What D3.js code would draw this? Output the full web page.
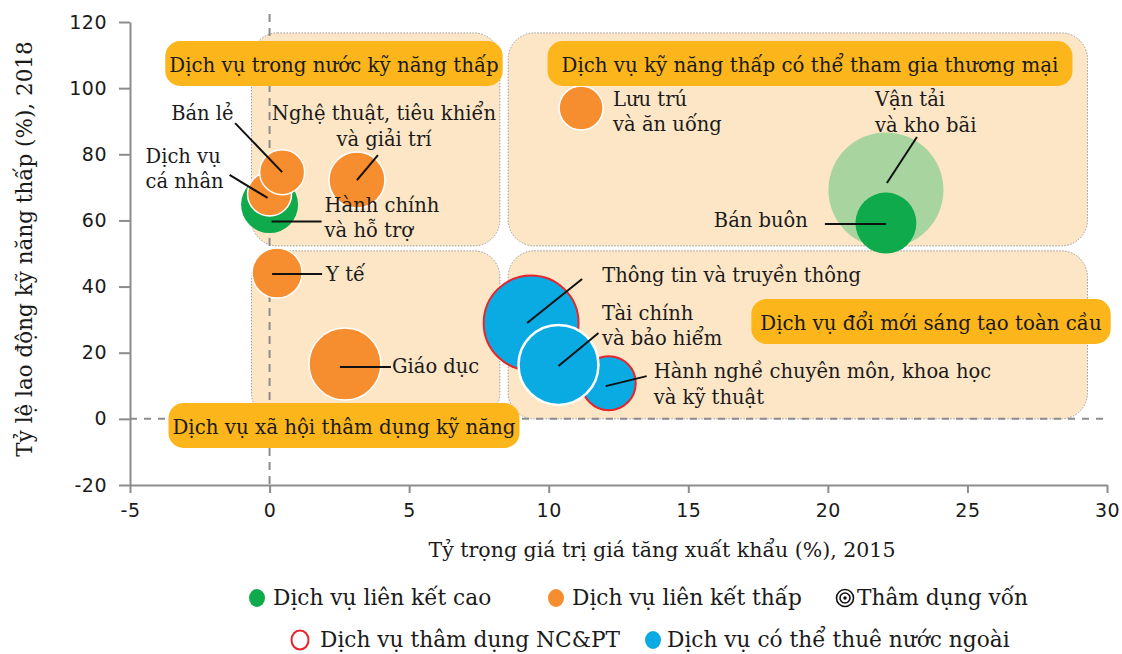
<!DOCTYPE html>
<html>
<head>
<meta charset="utf-8">
<script src="https://cdn.jsdelivr.net/npm/d3@7/dist/d3.min.js"></script>
<style>
  body { margin: 0; background: #fff; }
  svg text { font-family: "DejaVu Serif", serif; fill: #1a1a1a; }
  .tick text { font-family: "DejaVu Sans", sans-serif; letter-spacing: 0.5px; }
</style>
</head>
<body>
<svg id="chart" width="1122" height="654"></svg>
<script>
// ---- Data -------------------------------------------------------------
// Sectors in drawing order (back to front)
const sectors = [
  "Hành chính và hỗ trợ",
  "Dịch vụ cá nhân",
  "Bán lẻ",
  "Nghệ thuật, tiêu khiển và giải trí",
  "Y tế",
  "Giáo dục",
  "Lưu trú và ăn uống",
  "Vận tải và kho bãi",
  "Bán buôn",
  "Thông tin và truyền thông",
  "Hành nghề chuyên môn, khoa học và kỹ thuật",
  "Tài chính và bảo hiểm"
];
// Share of value added in exports (%), 2015
const exportShare = [0.0, 0.0, 0.45, 3.13, 0.27, 2.7, 11.16, 22.08, 22.08, 9.37, 12.15, 10.35];
// Share of low-skilled workers (%), 2018
const lowSkillShare = [64.8, 68.0, 74.6, 72.2, 44.1, 16.6, 94.0, 69.2, 59.2, 29.0, 10.8, 16.3];
// Bubble size (relative employment weight)
const weight = [3.61, 2.15, 2.25, 3.48, 2.78, 5.76, 2.15, 14.7, 4.13, 10.0, 3.24, 7.1];
// Group: "cao" = high linkage, "thap" = low linkage, "ngoai" = offshorable, "von" = capital intensive
const group = ["cao", "thap", "thap", "thap", "thap", "thap", "thap", "von", "cao", "ngoai", "ngoai", "ngoai"];
// R&D intensive flag
const rdIntensive = [false, false, false, false, false, false, false, false, false, true, true, false];

// Quadrant zones (data units) and their titles
const zoneTitles = [
  "Dịch vụ trong nước kỹ năng thấp",
  "Dịch vụ kỹ năng thấp có thể tham gia thương mại",
  "Dịch vụ xã hội thâm dụng kỹ năng",
  "Dịch vụ đổi mới sáng tạo toàn cầu"
];
const zoneX0 = [-0.65, 8.55, -0.65, 8.55];
const zoneX1 = [8.25, 29.3, 8.25, 29.3];
const zoneY0 = [52.3, 52.3, 0, 0];
const zoneY1 = [116.7, 116.7, 50.8, 50.8];

// Axis ticks
const xTicks = [-5, 0, 5, 10, 15, 20, 25, 30];
const yTicks = [-20, 0, 20, 40, 60, 80, 100, 120];

const xTitle = "Tỷ trọng giá trị giá tăng xuất khẩu (%), 2015";
const yTitle = "Tỷ lệ lao động kỹ năng thấp (%), 2018";

const legendRow1 = ["Dịch vụ liên kết cao", "Dịch vụ liên kết thấp", "Thâm dụng vốn"];
const legendRow2 = ["Dịch vụ thâm dụng NC&PT", "Dịch vụ có thể thuê nước ngoài"];

// ---- Styling ----------------------------------------------------------
const C = {
  green: "#0eaa4b",
  lightGreen: "#a8d4a0",
  orange: "#f68d2e",
  blue: "#0aabe2",
  red: "#e6262c",
  zone: "#fde6c6",
  pill: "#fcb61b",
  axis: "#8c8c8c"
};
const fillFor = { cao: C.green, thap: C.orange, ngoai: C.blue, von: C.lightGreen };

// ---- Scales -----------------------------------------------------------
const svg = d3.select("#chart");
const x = d3.scaleLinear().domain([-5, 30]).range([130, 1107]);
const y = d3.scaleLinear().domain([-20, 120]).range([485, 22]);
const r = d3.scaleSqrt().domain([0, 1]).range([0, 15]);

// ---- Zones ------------------------------------------------------------
const zones = svg.append("g");
zoneTitles.forEach((t, i) => {
  zones.append("rect")
    .attr("x", x(zoneX0[i])).attr("y", y(zoneY1[i]))
    .attr("width", x(zoneX1[i]) - x(zoneX0[i]))
    .attr("height", y(zoneY0[i]) - y(zoneY1[i]))
    .attr("rx", 26).attr("ry", 26)
    .attr("fill", C.zone)
    .attr("stroke", "#9a9a9a").attr("stroke-width", 1)
    .attr("stroke-dasharray", "1.5 1.5");
});

// ---- Reference lines through zero ------------------------------------
svg.append("line")
  .attr("x1", x(0)).attr("x2", x(0)).attr("y1", 14).attr("y2", y(-20))
  .attr("stroke", C.axis).attr("stroke-width", 2).attr("stroke-dasharray", "8 6");
svg.append("line")
  .attr("x1", x(-5)).attr("x2", x(30) + 2).attr("y1", y(0)).attr("y2", y(0))
  .attr("stroke", C.axis).attr("stroke-width", 2).attr("stroke-dasharray", "7 7");

// ---- Axes -------------------------------------------------------------
const fmt = d => String(d);
const xAxis = svg.append("g").attr("transform", `translate(0,${y(-20)})`)
  .call(d3.axisBottom(x).tickValues(xTicks).tickSize(8).tickSizeOuter(0).tickPadding(11).tickFormat(fmt));
const yAxis = svg.append("g").attr("transform", `translate(${x(-5)},0)`)
  .call(d3.axisLeft(y).tickValues(yTicks).tickSize(11).tickSizeOuter(0).tickPadding(12).tickFormat(fmt));
[xAxis, yAxis].forEach(g => {
  g.select(".domain").attr("stroke", C.axis).attr("stroke-width", 2);
  g.selectAll(".tick line").attr("stroke", C.axis).attr("stroke-width", 2);
  g.selectAll(".tick text").attr("font-size", 19).attr("fill", "#1a1a1a");
});

svg.append("text").attr("x", 662).attr("y", 557)
  .attr("text-anchor", "middle").attr("font-size", 20.5).text(xTitle);
svg.append("text").attr("transform", "translate(32,249) rotate(-90)")
  .attr("text-anchor", "middle").attr("font-size", 21.5).text(yTitle);

// ---- Bubbles ----------------------------------------------------------
const idx = d3.range(sectors.length);
svg.append("g").selectAll("circle").data(idx).join("circle")
  .attr("cx", i => x(exportShare[i]))
  .attr("cy", i => y(lowSkillShare[i]))
  .attr("r", i => r(weight[i]))
  .attr("fill", i => fillFor[group[i]])
  .attr("stroke", i => rdIntensive[i] ? C.red : (group[i] === "thap" || sectors[i] === "Tài chính và bảo hiểm") ? "#fff" : "none")
  .attr("stroke-width", i => rdIntensive[i] ? 2 : (sectors[i] === "Tài chính và bảo hiểm" ? 2.5 : 1.5));

// ---- Bubble labels with leader lines (offsets in px from bubble centre)
const notes = {
  "Hành chính và hỗ trợ": { lines: ["Hành chính", "và hỗ trợ"], dx: 55, dy: 7, anchor: "start", lead: [[2, 17], [52, 17]] },
  "Dịch vụ cá nhân": { lines: ["Dịch vụ", "cá nhân"], dx: -124, dy: -31, anchor: "start", lead: [[-2, 4], [-40, -19]] },
  "Bán lẻ": { lines: ["Bán lẻ"], dx: -111, dy: -52, anchor: "start", lead: [[0, 0], [-47, -49]] },
  "Nghệ thuật, tiêu khiển và giải trí": { lines: ["Nghệ thuật, tiêu khiển", "và giải trí"], dx: 27, dy: -60, anchor: "middle", lead: [[0, 0], [21, -25]] },
  "Y tế": { lines: ["Y tế"], dx: 49, dy: 8, anchor: "start", lead: [[-5, 1], [45, 1]] },
  "Giáo dục": { lines: ["Giáo dục"], dx: 47, dy: 9, anchor: "start", lead: [[-5, 3], [46, 3]] },
  "Lưu trú và ăn uống": { lines: ["Lưu trú", "và ăn uống"], dx: 32, dy: -2, anchor: "start" },
  "Vận tải và kho bãi": { lines: ["Vận tải", "và kho bãi"], dx: -11, dy: -84, anchor: "start", lead: [[1, -7], [31, -53]] },
  "Bán buôn": { lines: ["Bán buôn"], dx: -78, dy: 4, anchor: "end", lead: [[0, 1], [-61, 1]] },
  "Thông tin và truyền thông": { lines: ["Thông tin và truyền thông"], dx: 71, dy: -41, anchor: "start", lead: [[-4, 0], [51, -44]] },
  "Hành nghề chuyên môn, khoa học và kỹ thuật": { lines: ["Hành nghề chuyên môn, khoa học", "và kỹ thuật"], dx: 45, dy: -5, anchor: "start", lead: [[-3, 3], [38, -7]] },
  "Tài chính và bảo hiểm": { lines: ["Tài chính", "và bảo hiểm"], dx: 43.5, dy: -45, anchor: "start", lead: [[0, 1], [40, -32]] }
};
const labels = svg.append("g");
idx.forEach(i => {
  const n = notes[sectors[i]];
  const cx = x(exportShare[i]), cy = y(lowSkillShare[i]);
  if (n.lead) {
    labels.append("line")
      .attr("x1", cx + n.lead[0][0]).attr("y1", cy + n.lead[0][1])
      .attr("x2", cx + n.lead[1][0]).attr("y2", cy + n.lead[1][1])
      .attr("stroke", "#111").attr("stroke-width", 2);
  }
  const t = labels.append("text")
    .attr("x", cx + n.dx).attr("y", cy + n.dy)
    .attr("text-anchor", n.anchor).attr("font-size", 19.5);
  n.lines.forEach((l, k) => t.append("tspan").attr("x", cx + n.dx).attr("dy", k ? 25.5 : 0).text(l));
});

// ---- Zone title pills -------------------------------------------------
const pillCentre = [[334, 63.5], [810, 63.5], [344, 425.5], [931, 321.5]];
const pillPad = [4, 14, 4, 9];
const pills = svg.append("g");
zoneTitles.forEach((t, i) => {
  const g = pills.append("g");
  const rect = g.append("rect").attr("fill", C.pill).attr("rx", 15).attr("ry", 15);
  const txt = g.append("text").attr("x", pillCentre[i][0]).attr("y", pillCentre[i][1] + 8)
    .attr("text-anchor", "middle").attr("font-size", 19.8).text(t);
  const w = txt.node().getComputedTextLength() + 2 * pillPad[i];
  rect.attr("x", pillCentre[i][0] - w / 2).attr("y", pillCentre[i][1] - 22.5)
    .attr("width", w).attr("height", 45);
});

// ---- Legend -----------------------------------------------------------
const legend = svg.append("g");
const lg1x = [257, 556, 845];
const lg2x = [300, 653];
// row 1
legend.append("ellipse").attr("cx", lg1x[0]).attr("cy", 598).attr("rx", 8).attr("ry", 9).attr("fill", C.green);
legend.append("ellipse").attr("cx", lg1x[1]).attr("cy", 598).attr("rx", 8).attr("ry", 9).attr("fill", C.orange);
[8.5, 5, 1.8].forEach((rr, k) => legend.append("circle").attr("cx", lg1x[2]).attr("cy", 598).attr("r", rr)
  .attr("fill", k === 2 ? "#111" : "none").attr("stroke", k === 2 ? "none" : "#111").attr("stroke-width", 1.6));
legendRow1.forEach((t, k) => legend.append("text").attr("x", lg1x[k] + (k === 2 ? 12 : 16)).attr("y", 605)
  .attr("font-size", 21.7).text(t));
// row 2
legend.append("ellipse").attr("cx", lg2x[0]).attr("cy", 640).attr("rx", 8.5).attr("ry", 9.5)
  .attr("fill", "none").attr("stroke", C.red).attr("stroke-width", 2);
legend.append("ellipse").attr("cx", lg2x[1]).attr("cy", 640).attr("rx", 8).attr("ry", 9).attr("fill", C.blue);
legendRow2.forEach((t, k) => legend.append("text").attr("x", lg2x[k] + (k === 0 ? 20 : 14)).attr("y", 647)
  .attr("font-size", 21.7).text(t));
</script>
</body>
</html>
